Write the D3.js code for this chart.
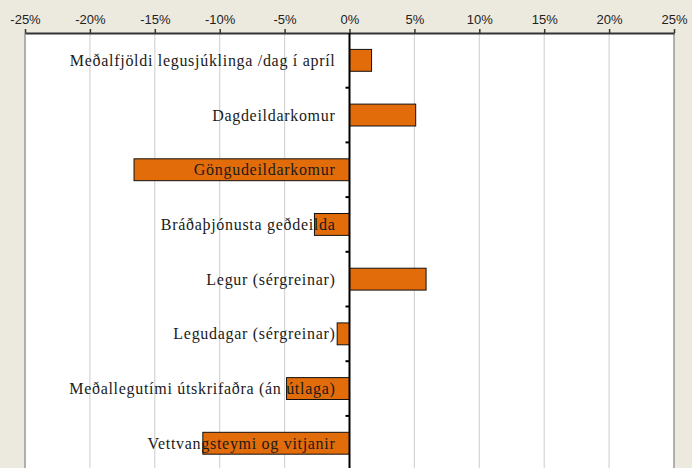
<!DOCTYPE html>
<html><head><meta charset="utf-8">
<script src="https://cdn.jsdelivr.net/npm/d3@7"></script>
<style>body{margin:0;background:#ECE9DF;}svg{display:block;}
.lbl{font-family:"Liberation Serif",serif;font-size:16px;letter-spacing:0.7px;}
</style>
</head><body>
<svg id="c" width="692" height="468"></svg>
<script>
const categories = [
  "Meðalfjöldi legusjúklinga /dag í apríl",
  "Dagdeildarkomur",
  "Göngudeildarkomur",
  "Bráðaþjónusta geðdeilda",
  "Legur (sérgreinar)",
  "Legudagar (sérgreinar)",
  "Meðallegutími útskrifaðra (án útlaga)",
  "Vettvangsteymi og vitjanir"
];
const values = [1.7, 5.1, -16.6, -2.7, 5.9, -0.95, -4.85, -11.3];
const tickValues = [-25, -20, -15, -10, -5, 0, 5, 10, 15, 20, 25];

(function () {
const svg = d3.select("#c");
const pl = 25, pr = 674, pt = 33, pb = 470.6;
const x = d3.scaleLinear().domain([-25, 25]).range([pl, pr]);
const y = d3.scaleBand().domain(categories).range([pt, pb]).paddingInner(0.6).paddingOuter(0.3);
const band = d3.scaleBand().domain(categories).range([pt, pb]);

svg.append("rect").attr("x", pl).attr("y", pt).attr("width", pr - pl).attr("height", 468 - pt).attr("fill", "#fff");

svg.append("g").selectAll("line").data(tickValues.filter(d => d !== 0 && Math.abs(d) !== 25)).join("line")
  .attr("x1", d => x(d)).attr("x2", d => x(d)).attr("y1", pt).attr("y2", 468)
  .attr("stroke", "#d4d4d4").attr("stroke-width", 1.2);

svg.append("line").attr("x1", pl).attr("x2", pl).attr("y1", pt).attr("y2", 468).attr("stroke", "#999").attr("stroke-width", 1.5);
svg.append("line").attr("x1", pr).attr("x2", pr).attr("y1", pt).attr("y2", 468).attr("stroke", "#999").attr("stroke-width", 1.5);

svg.append("g").selectAll("rect").data(values).join("rect")
  .attr("x", (d) => x(Math.min(0, d)))
  .attr("width", d => Math.abs(x(d) - x(0)))
  .attr("y", (d, i) => y(categories[i]))
  .attr("height", y.bandwidth())
  .attr("fill", "#E36C0A").attr("stroke", "#111").attr("stroke-width", 1);

svg.append("g").selectAll("text").data(categories).join("text")
  .attr("class", "lbl")
  .attr("x", x(0) - 14)
  .attr("y", d => band(d) + band.bandwidth() / 2)
  .attr("dy", "0.35em")
  .attr("text-anchor", "end")
  .attr("fill", "#1a1a1a")
  .text(d => d);

const axis = d3.axisTop(x).tickValues(tickValues).tickFormat(d => d + "%").tickSize(4).tickSizeOuter(0);
const ag = svg.append("g").attr("transform", `translate(0,${pt})`).call(axis);
ag.select(".domain").attr("stroke", "#333").attr("stroke-width", 2);
ag.selectAll(".tick line").attr("stroke", "#333").attr("stroke-width", 1.5);
ag.selectAll(".tick text").attr("font-family", "'Liberation Sans', Arial, sans-serif").attr("font-size", 13).attr("fill", "#222").attr("y", -9);

svg.append("line").attr("x1", x(0)).attr("x2", x(0)).attr("y1", pt).attr("y2", 468).attr("stroke", "#000").attr("stroke-width", 2);
svg.append("g").selectAll("line").data(categories.slice(1)).join("line")
  .attr("x1", x(0) - 4).attr("x2", x(0))
  .attr("y1", d => band(d)).attr("y2", d => band(d))
  .attr("stroke", "#000").attr("stroke-width", 2);
})();
</script>
</body></html>
